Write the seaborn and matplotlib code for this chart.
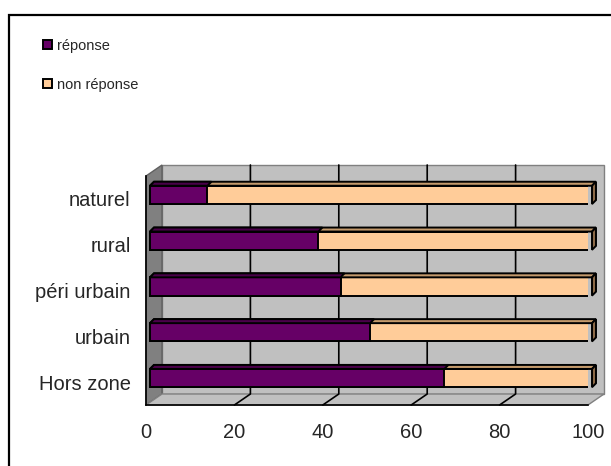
import matplotlib
matplotlib.use("Agg")
import matplotlib.pyplot as plt
from matplotlib.patches import Polygon, Rectangle, Patch
import seaborn as sns

# values (percent)
categories = ["naturel", "rural", "péri urbain", "urbain", "Hors zone"]
reponse = [13.0, 38.1, 43.1, 49.8, 66.6]
non_reponse = [87.0, 61.9, 56.9, 50.2, 33.4]
xticks = [0, 20, 40, 60, 80, 100]
series_names = ["réponse", "non réponse"]

purple = "#660066"
peach = "#ffcc99"
silver = "#c0c0c0"

sns.set_style("white")
plt.rcParams["font.family"] = ["Liberation Sans", "DejaVu Sans"]

W, H = 611, 466
fig = plt.figure(figsize=(W / 100, H / 100), dpi=100)
# front face of the plot box, in pixels: x 146..588, y 176..405
ax = fig.add_axes([146 / W, (H - 405) / H, 442 / W, 229 / H])
ax.patch.set_visible(False)

# px -> data units
ppx = 100 / 442
ppy = 5 / 229
dxw, dyw = 16 / 442, 11 / 229  # depth of the walls in axes fraction

# walls and floor (pseudo 3d like the excel chart)
back = Polygon([(dxw, dyw), (1 + dxw, dyw), (1 + dxw, 1 + dyw), (dxw, 1 + dyw)],
               closed=True, transform=ax.transAxes, facecolor=silver,
               edgecolor="#808080", lw=1, clip_on=False, zorder=0)
side = Polygon([(0, 0), (0, 1), (dxw, 1 + dyw), (dxw, dyw)], closed=True,
               transform=ax.transAxes, facecolor="#808080", edgecolor="#606060",
               lw=1, clip_on=False, zorder=0)
floor = Polygon([(0, 0), (1, 0), (1 + dxw, dyw), (dxw, dyw)], closed=True,
                transform=ax.transAxes, facecolor=silver, edgecolor="#808080",
                lw=1, clip_on=False, zorder=0)
for p in (back, side, floor):
    ax.add_patch(p)

for t in xticks[1:-1]:
    fx = t / 100
    ax.plot([fx, fx + dxw, fx + dxw], [0, dyw, 1 + dyw], color="black", lw=1.2,
            transform=ax.transAxes, clip_on=False, zorder=0.5)

totals = [a + b for a, b in zip(reponse, non_reponse)]
sns.barplot(x=totals, y=categories, color=peach, orient="h", width=0.4,
            edgecolor="black", linewidth=1.4, saturation=1, ax=ax, zorder=2)
sns.barplot(x=reponse, y=categories, color=purple, orient="h", width=0.4,
            edgecolor="black", linewidth=1.4, saturation=1, ax=ax, zorder=3)

ax.set_xlim(0, 100)
ax.set_ylim(len(categories) - 0.5, -0.5)

n = len(categories)
bars = [p for p in ax.patches if isinstance(p, Rectangle)][-2 * n:]
ox, oy = 4 * ppx, 4 * ppy
for i, p in enumerate(bars):
    p.set_x(p.get_x() + ox)
    p.set_y(p.get_y() - oy)
    x0, x1 = p.get_x(), p.get_x() + p.get_width()
    yt, yb = p.get_y(), p.get_y() + p.get_height()
    is_total = i < n
    top_col = "#c49a6c" if is_total else "#4a004a"
    z = 2.5 if is_total else 3.5
    ax.add_patch(Polygon([(x0, yt), (x1, yt), (x1 + ox, yt - oy), (x0 + ox, yt - oy)],
                         closed=True, facecolor=top_col, edgecolor="black",
                         lw=1.4, clip_on=False, zorder=z))
    if is_total:
        ax.add_patch(Polygon([(x1, yt), (x1 + ox, yt - oy), (x1 + ox, yb - oy), (x1, yb)],
                             closed=True, facecolor="#8c6a48", edgecolor="black",
                             lw=1.4, clip_on=False, zorder=z))

# axes / ticks
for s in ["top", "right"]:
    ax.spines[s].set_visible(False)
for s in ["left", "bottom"]:
    ax.spines[s].set_color("black")
    ax.spines[s].set_linewidth(1.2)
    ax.spines[s].set_zorder(5)

ax.set_xticks(xticks)
ax.set_xticklabels([str(t) for t in xticks], fontsize=14.5)
ax.tick_params(axis="x", direction="out", length=5, width=1.2, pad=8, color="black")

ax.set_yticks([i - 0.5 for i in range(n + 1)])
ax.set_yticklabels([])
ax.set_yticks(range(n), minor=True)
ax.set_yticklabels(categories, minor=True, fontsize=14.5)
ax.tick_params(axis="y", which="major", direction="out", length=5, width=1.2, color="black")
ax.tick_params(axis="y", which="minor", length=0, pad=11)
ax.set_xlabel("")
ax.set_ylabel("")

# legend
handles = [Patch(facecolor=purple, edgecolor="black", lw=1.4),
           Patch(facecolor=peach, edgecolor="black", lw=1.4)]
fig.legend(handles, series_names, loc="upper left", bbox_to_anchor=(37 / W, 1 - 33 / H),
           frameon=False, fontsize=10.5, handlelength=0.6, handleheight=0.6,
           handletextpad=0.35, labelspacing=1.7, borderaxespad=0)

# outer border of the chart area
fig.patches.append(Rectangle((9 / W, -0.1), 1.2, 1 - 15 / H + 0.1, transform=fig.transFigure,
                             facecolor="none", edgecolor="black", lw=1.6, zorder=10))

fig.savefig("out.png", dpi=100)
